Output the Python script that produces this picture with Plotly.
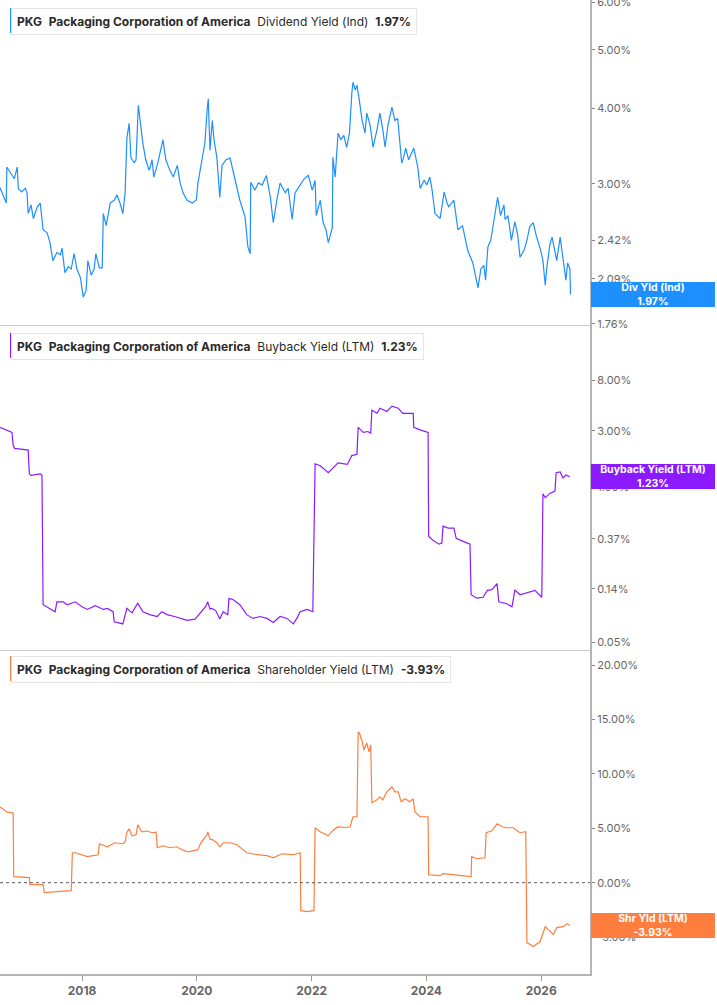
import math
from datetime import datetime, timedelta
import plotly.graph_objects as go

# ---------------- data (time as decimal years, values in %) ----------------
div_years = [2016.57,2016.62,2016.68,2016.69,2016.75,2016.82,2016.87,2016.89,2016.95,2017.01,2017.04,2017.06,2017.11,2017.15,2017.22,2017.27,2017.32,2017.39,2017.44,2017.49,2017.56,2017.62,2017.65,2017.70,2017.76,2017.81,2017.86,2017.91,2017.97,2018.02,2018.07,2018.10,2018.16,2018.21,2018.24,2018.30,2018.35,2018.37,2018.42,2018.49,2018.56,2018.61,2018.66,2018.71,2018.75,2018.78,2018.82,2018.85,2018.91,2018.94,2018.98,2019.01,2019.06,2019.11,2019.17,2019.22,2019.25,2019.32,2019.41,2019.46,2019.53,2019.59,2019.66,2019.71,2019.76,2019.83,2019.92,2019.99,2020.02,2020.09,2020.14,2020.18,2020.20,2020.23,2020.27,2020.30,2020.35,2020.40,2020.44,2020.51,2020.58,2020.67,2020.75,2020.84,2020.89,2020.93,2020.94,2021.01,2021.07,2021.14,2021.21,2021.28,2021.33,2021.40,2021.45,2021.54,2021.59,2021.66,2021.71,2021.80,2021.87,2021.94,2022.01,2022.06,2022.08,2022.15,2022.20,2022.25,2022.29,2022.36,2022.37,2022.41,2022.46,2022.51,2022.56,2022.61,2022.66,2022.70,2022.72,2022.76,2022.79,2022.83,2022.88,2022.93,2022.96,2023.02,2023.07,2023.14,2023.19,2023.24,2023.28,2023.33,2023.40,2023.45,2023.50,2023.57,2023.60,2023.64,2023.69,2023.78,2023.85,2023.89,2023.96,2024.01,2024.06,2024.10,2024.15,2024.24,2024.31,2024.36,2024.39,2024.48,2024.55,2024.63,2024.69,2024.72,2024.81,2024.86,2024.90,2024.95,2025.00,2025.03,2025.07,2025.12,2025.17,2025.24,2025.29,2025.35,2025.37,2025.42,2025.48,2025.54,2025.59,2025.63,2025.70,2025.75,2025.80,2025.86,2025.91,2025.94,2025.99,2026.03,2026.07,2026.10,2026.15,2026.19,2026.24,2026.27,2026.33,2026.38,2026.43,2026.46,2026.50,2026.51]
div_yield = [2.96,2.88,2.79,3.20,3.14,3.06,3.20,2.95,2.91,2.95,2.90,2.68,2.77,2.63,2.75,2.79,2.52,2.49,2.40,2.24,2.31,2.29,2.35,2.14,2.19,2.17,2.30,2.17,2.10,1.95,2.00,2.24,2.12,2.17,2.30,2.18,2.18,2.68,2.56,2.79,2.82,2.88,2.79,2.68,2.90,3.57,3.78,3.32,3.25,3.29,4.05,3.82,3.50,3.29,3.16,3.29,3.08,3.25,3.55,3.29,3.16,3.08,3.22,3.01,2.90,2.82,2.79,2.82,3.01,3.29,3.50,3.97,4.15,3.41,3.82,3.55,3.32,2.85,3.22,3.29,3.31,3.04,2.82,2.65,2.36,2.30,3.02,2.93,3.01,2.99,3.10,2.85,2.59,2.85,3.01,2.90,2.95,2.62,2.90,2.99,3.06,3.10,2.93,3.04,2.66,2.82,2.59,2.52,2.40,2.54,3.32,3.08,3.64,3.55,3.61,3.45,3.65,4.24,4.42,4.29,4.37,4.13,3.82,3.64,3.93,3.75,3.45,3.69,3.93,3.69,3.45,3.75,4.02,3.82,3.85,3.25,3.31,3.44,3.29,3.44,3.20,2.95,3.04,2.99,3.08,2.93,2.68,2.63,2.91,2.79,2.75,2.82,2.52,2.56,2.38,2.33,2.22,2.12,2.02,2.17,2.20,2.08,2.36,2.42,2.59,2.85,2.66,2.77,2.62,2.66,2.42,2.60,2.47,2.27,2.33,2.42,2.55,2.59,2.47,2.42,2.33,2.24,2.04,2.19,2.38,2.45,2.33,2.24,2.45,2.27,2.08,2.22,2.17,1.97]

bb_years = [2016.57,2016.78,2016.80,2016.83,2016.87,2017.06,2017.08,2017.11,2017.27,2017.30,2017.32,2017.39,2017.53,2017.56,2017.67,2017.74,2017.88,2018.00,2018.09,2018.23,2018.37,2018.44,2018.54,2018.56,2018.71,2018.78,2018.84,2018.87,2018.97,2019.06,2019.18,2019.31,2019.39,2019.48,2019.61,2019.71,2019.83,2019.97,2020.09,2020.16,2020.19,2020.23,2020.26,2020.33,2020.40,2020.46,2020.54,2020.56,2020.63,2020.75,2020.87,2020.98,2021.10,2021.22,2021.33,2021.45,2021.57,2021.68,2021.74,2021.80,2021.92,2022.02,2022.06,2022.15,2022.29,2022.37,2022.46,2022.62,2022.70,2022.79,2022.81,2022.90,2022.98,2023.03,2023.05,2023.14,2023.19,2023.31,2023.40,2023.51,2023.59,2023.77,2023.78,2023.89,2024.03,2024.04,2024.11,2024.22,2024.27,2024.29,2024.38,2024.48,2024.52,2024.62,2024.76,2024.78,2024.88,2024.99,2025.06,2025.14,2025.23,2025.26,2025.40,2025.49,2025.54,2025.63,2025.77,2025.89,2026.01,2026.03,2026.07,2026.15,2026.24,2026.26,2026.33,2026.38,2026.43,2026.50]
bb_yield = [3.20,2.90,2.25,2.12,2.12,2.06,1.30,1.26,1.30,1.27,0.103,0.099,0.090,0.109,0.109,0.103,0.109,0.099,0.094,0.101,0.094,0.096,0.090,0.074,0.071,0.096,0.090,0.088,0.106,0.090,0.085,0.082,0.090,0.085,0.082,0.079,0.076,0.078,0.090,0.100,0.109,0.095,0.096,0.092,0.078,0.090,0.085,0.116,0.114,0.103,0.085,0.079,0.082,0.079,0.073,0.082,0.079,0.071,0.079,0.090,0.094,0.090,1.58,1.52,1.33,1.45,1.61,1.56,1.85,1.90,3.20,2.90,2.95,2.85,4.46,4.20,4.63,4.35,4.82,4.63,4.20,4.20,3.20,3.05,2.90,0.388,0.360,0.333,0.340,0.472,0.455,0.455,0.373,0.355,0.333,0.125,0.117,0.119,0.136,0.138,0.155,0.109,0.105,0.099,0.137,0.125,0.130,0.136,0.119,0.881,0.82,0.89,0.93,1.33,1.35,1.20,1.27,1.23]

sh_years = [2016.57,2016.64,2016.69,2016.80,2016.81,2017.08,2017.09,2017.32,2017.34,2017.56,2017.81,2017.83,2017.88,2018.09,2018.19,2018.28,2018.30,2018.44,2018.57,2018.71,2018.75,2018.78,2018.82,2018.87,2018.94,2018.97,2019.04,2019.13,2019.22,2019.29,2019.31,2019.41,2019.53,2019.65,2019.74,2019.85,2020.02,2020.07,2020.14,2020.18,2020.19,2020.23,2020.28,2020.35,2020.40,2020.46,2020.58,2020.70,2020.87,2021.05,2021.22,2021.33,2021.48,2021.68,2021.80,2021.81,2021.92,2022.04,2022.06,2022.15,2022.29,2022.37,2022.46,2022.58,2022.67,2022.72,2022.79,2022.81,2022.83,2022.88,2022.91,2022.96,2023.00,2023.03,2023.05,2023.14,2023.19,2023.24,2023.31,2023.40,2023.45,2023.51,2023.56,2023.63,2023.71,2023.77,2023.80,2023.89,2024.03,2024.04,2024.24,2024.29,2024.46,2024.78,2024.79,2024.88,2025.02,2025.04,2025.14,2025.23,2025.32,2025.40,2025.51,2025.63,2025.73,2025.75,2025.86,2025.98,2026.07,2026.15,2026.21,2026.27,2026.38,2026.45,2026.50]
sh_yield = [6.97,6.70,6.50,6.40,0.55,0.46,-0.18,-0.18,-0.92,-0.83,-0.73,2.75,2.75,2.39,2.45,2.57,3.58,3.30,3.67,3.58,3.76,4.59,4.95,4.31,4.40,5.32,4.68,4.75,4.59,4.65,3.21,3.39,3.21,3.30,3.03,2.84,3.03,3.67,4.13,4.40,4.68,4.00,3.94,3.67,3.30,3.67,3.67,3.49,2.75,2.57,2.48,2.29,2.66,2.57,2.75,-2.57,-2.66,-2.57,5.05,4.68,4.31,4.80,5.14,5.05,5.14,6.06,6.06,13.85,13.76,13.0,12.2,12.84,12.02,12.66,7.34,7.61,7.89,7.61,8.35,8.81,8.35,8.35,7.43,7.71,7.43,7.71,6.51,6.06,6.06,0.73,0.64,0.83,0.75,0.55,2.39,2.20,2.29,4.59,4.77,5.41,5.14,5.05,5.05,4.59,4.68,-5.50,-5.87,-5.41,-4.04,-4.50,-4.77,-4.13,-4.04,-3.76,-3.93]

div_ticks = [1.76, 2.09, 2.42, 3.00, 4.00, 5.00, 6.00]
bb_ticks = [0.05, 0.14, 0.37, 1.00, 3.00, 8.00]
sh_ticks = [-5, 0, 5, 10, 15, 20]

ticker = "PKG"
company = "Packaging Corporation of America"
div_last, bb_last, sh_last = 1.97, 1.23, -3.93

BLUE = "#1E8FFF"
PURPLE = "#8C1AFF"
ORANGE = "#FF7E3E"


def to_date(y):
    yr = int(y)
    return datetime(yr, 1, 1) + timedelta(days=(y - yr) * 365.25)


def dates(lst):
    return [to_date(v) for v in lst]


fig = go.Figure()
fig.add_trace(go.Scatter(x=dates(div_years), y=div_yield, mode="lines",
                         line=dict(color=BLUE, width=1.2), xaxis="x", yaxis="y", hoverinfo="skip"))
fig.add_trace(go.Scatter(x=dates(bb_years), y=bb_yield, mode="lines",
                         line=dict(color=PURPLE, width=1.2), xaxis="x2", yaxis="y2", hoverinfo="skip"))
fig.add_trace(go.Scatter(x=dates(sh_years), y=sh_yield, mode="lines",
                         line=dict(color=ORANGE, width=1.2), xaxis="x3", yaxis="y3", hoverinfo="skip"))

H = 974.0
W = 590.0
d3 = (974 - 650) / H
d2 = (974 - 325) / H

xrange_ = [to_date(2016.571), to_date(2026.85)]
tickfont = dict(family="Inter, Roboto, sans-serif", size=11, color="#666666")

common_y = dict(side="right", showgrid=False, zeroline=False, showline=True,
                linecolor="#b4b4b4", linewidth=2, ticks="outside", ticklen=3,
                tickcolor="#888888", tickfont=tickfont, mirror=False,
                ticklabeloverflow="allow", automargin=False)

fig.update_layout(
    width=717, height=1005,
    margin=dict(l=0, r=127, t=0, b=31, autoexpand=False),
    paper_bgcolor="white", plot_bgcolor="white",
    showlegend=False,
    xaxis=dict(domain=[0, 1], anchor="y", range=xrange_, showticklabels=False, showgrid=False,
               zeroline=False, showline=True, linecolor="#cccccc", linewidth=1, ticks="",
               automargin=False),
    xaxis2=dict(domain=[0, 1], anchor="y2", matches="x", range=xrange_, showticklabels=False,
                showgrid=False, zeroline=False, showline=True, linecolor="#cccccc", linewidth=1, ticks="",
                automargin=False),
    xaxis3=dict(domain=[0, 1], anchor="y3", matches="x", range=xrange_, showgrid=False, zeroline=False,
                showline=True, linecolor="#b4b4b4", linewidth=2, ticks="outside", ticklen=5,
                tickcolor="#999999", tick0="2018-01-01", dtick="M24", tickformat="%Y",
                automargin=False,
                tickfont=dict(family="Inter, Roboto, sans-serif", size=12, color="#666666", weight="bold")),
    yaxis=dict(domain=[d2, 1], anchor="x", type="log",
               range=[0.2438, 0.7815], tickvals=div_ticks,
               ticktext=[f"{v:.2f}%" for v in div_ticks], **common_y),
    yaxis2=dict(domain=[d3, d2], anchor="x2", type="log",
                range=[-1.368, 1.366], tickvals=bb_ticks,
                ticktext=[f"{v:.2f}%" for v in bb_ticks], **common_y),
    yaxis3=dict(domain=[0, d3], anchor="x3", range=[-8.39, 21.38], tickvals=sh_ticks,
                ticktext=[f"{v:.2f}%" for v in sh_ticks], **common_y),
)

# zero line in bottom panel
shapes = [dict(type="line", xref="paper", x0=0, x1=1, yref="y3", y0=0, y1=0,
               line=dict(color="#555555", width=1, dash="dot"))]

annotations = []
legend_specs = [
    (8, "Dividend Yield (Ind)", div_last, BLUE),
    (333, "Buyback Yield (LTM)", bb_last, PURPLE),
    (656, "Shareholder Yield (LTM)", sh_last, ORANGE),
]
for top_px, label, last, col in legend_specs:
    txt = (f"<b>{ticker}</b>&nbsp; <b>{company}</b>&nbsp; {label}&nbsp; "
           f"<b>{last:.2f}%</b>")
    annotations.append(dict(xref="paper", yref="paper", x=11 / W, y=1 - top_px / H,
                            xanchor="left", yanchor="top", showarrow=False, text=txt,
                            font=dict(family="Inter, Roboto, sans-serif", size=12, color="#2a2a2a"),
                            bgcolor="white", bordercolor="#e4e4e4", borderwidth=1, borderpad=5,
                            align="left"))
    shapes.append(dict(type="rect", xref="paper", yref="paper",
                       x0=10 / W, x1=13.5 / W, y0=1 - (top_px + 25) / H, y1=1 - top_px / H,
                       fillcolor=col, line=dict(width=0), layer="above"))

tags = [
    ("y", math.log10(div_last), f"Div Yld (Ind)<br>{div_last:.2f}%", BLUE),
    ("y2", math.log10(bb_last), f"Buyback Yield (LTM)<br>{bb_last:.2f}%", PURPLE),
    ("y3", sh_last, f"Shr Yld (LTM)<br>{sh_last:.2f}%", ORANGE),
]
for yref, yv, txt, col in tags:
    annotations.append(dict(xref="paper", yref=yref, x=1, y=yv, xanchor="left", yanchor="middle",
                            xshift=1, showarrow=False, text=txt, align="center",
                            width=122, height=23, borderpad=1, borderwidth=0,
                            bgcolor=col,
                            font=dict(family="Inter, Roboto, sans-serif", size=10.5,
                                      color="white", weight="bold")))

fig.update_layout(shapes=shapes, annotations=annotations)
fig.write_html("out.html")
